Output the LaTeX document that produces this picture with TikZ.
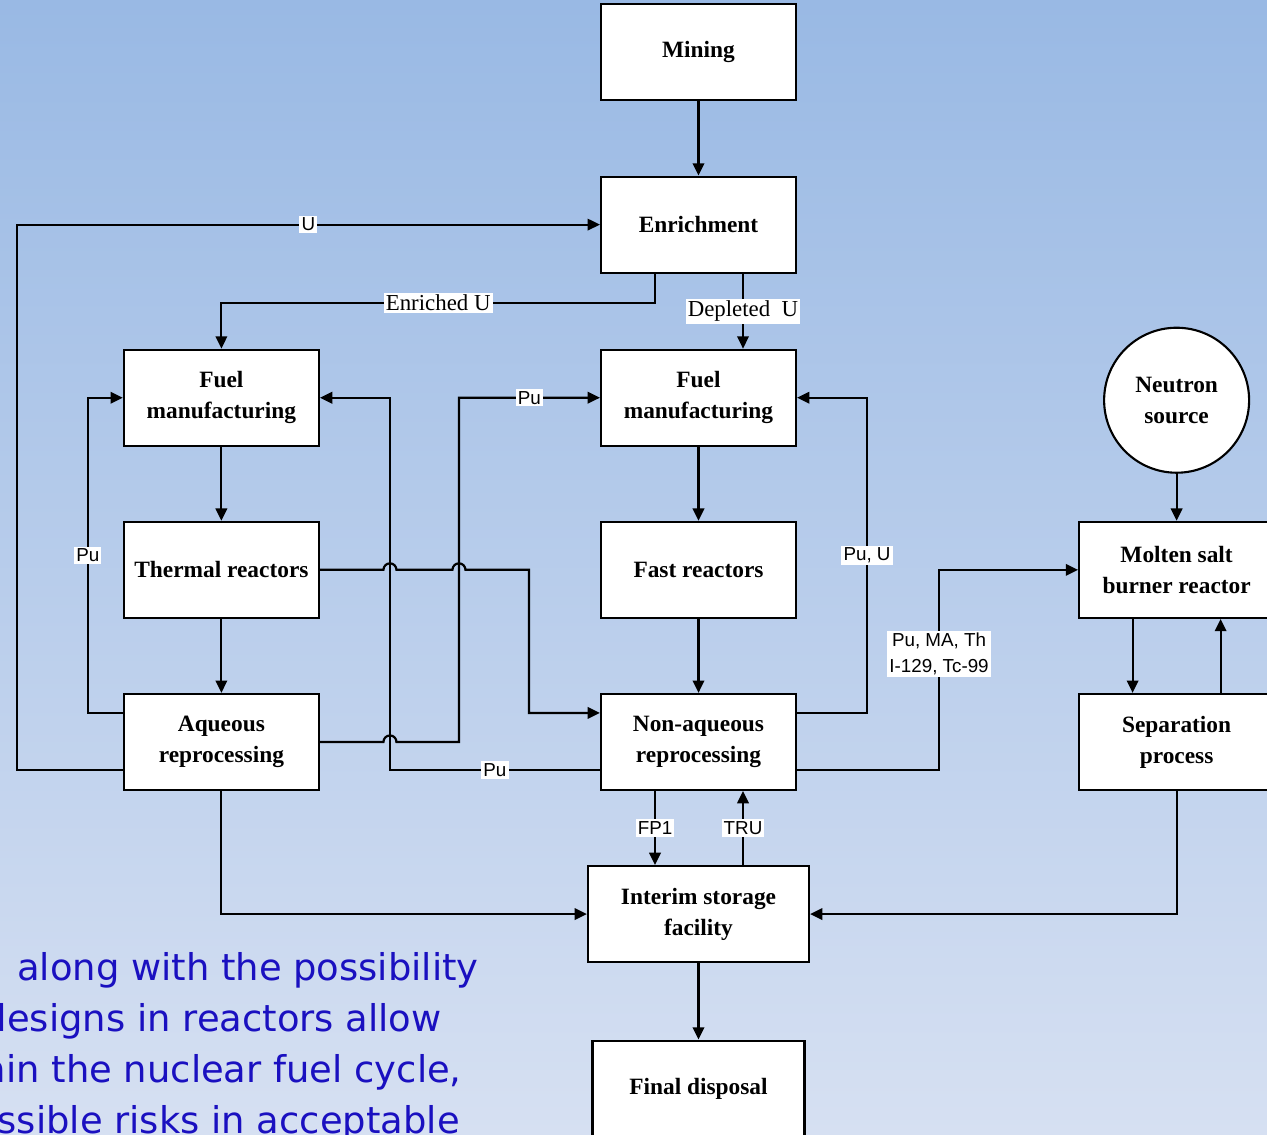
\documentclass[tikz,border=0pt]{standalone}
\usepackage{fontspec}
\setmainfont{Liberation Serif}
\setsansfont{Liberation Sans}
\newfontfamily\blurbfont{DejaVu Sans}
\usetikzlibrary{arrows.meta, positioning, calc}
\definecolor{bgtop}{RGB}{153,185,228}
\definecolor{bgbot}{RGB}{214,224,242}
\definecolor{blurb}{RGB}{26,16,192}
\tikzset{
  blk/.style={
    rectangle, draw=black, fill=white, line width=1.2pt,
    minimum width=#1, minimum height=1.92cm, align=center,
    font=\bfseries\fontsize{13.3}{17.6}\selectfont
  },
  blk/.default=3.9cm,
  arr/.style={line width=1.25pt, -{Triangle[length=7pt,width=6.5pt]}},
  slbl/.style={fill=white, inner sep=1.2pt, font=\fontsize{13}{15}\selectfont},
  plbl/.style={fill=white, inner sep=1.2pt, align=center,
    font=\sffamily\fontsize{10.7}{14.6}\selectfont},
  blurbtxt/.style={anchor=base east, text=blurb, inner sep=0pt,
    font=\blurbfont\fontsize{21}{29}\selectfont}
}

\begin{document}
\begin{tikzpicture}

  \clip (0,0) rectangle (25.34,-22.68);
  \shade[top color=bgtop, bottom color=bgbot] (0,0) rectangle (25.34,-22.68);

  % text of the slide, cut at the left
  \node[blurbtxt] (t1) at (9.58,-19.60) {along with the possibility};
  \node[blurbtxt] (t2) at (8.84,-20.62) {designs in reactors allow};
  \node[blurbtxt] (t3) at (9.24,-21.64) {within the nuclear fuel cycle,};
  \node[blurbtxt] (t4) at (9.20,-22.66) {possible risks in acceptable};

  % middle column
  \node[blk] (mining) at (13.97,-1.04) {Mining};
  \node[blk, below=1.49cm of mining] (enrich) {Enrichment};
  \node[blk, below=1.50cm of enrich]  (fmR)    {Fuel\\manufacturing};
  \node[blk, below=1.48cm of fmR]     (fast)   {Fast reactors};
  \node[blk, below=1.48cm of fast]    (nonaq)  {Non-aqueous\\reprocessing};
  \node[blk=4.42cm, below=1.48cm of nonaq]   (interim) {Interim storage\\facility};
  \node[blk=4.24cm, below=1.53cm of interim] (final)   {Final disposal};

  % left column
  \node[blk, left=5.60cm of fmR]   (fmL)     {Fuel\\manufacturing};
  \node[blk, left=5.60cm of fast]  (thermal) {Thermal reactors};
  \node[blk, left=5.60cm of nonaq] (aq)      {Aqueous\\reprocessing};

  % right column
  \node[blk, right=5.62cm of fast]  (msr) {Molten salt\\burner reactor};
  \node[blk, right=5.62cm of nonaq] (sep) {Separation\\process};
  \node[blk, circle, minimum size=2.9cm, above=0.94cm of msr] (neutron) {Neutron\\source};

  \coordinate (c1) at ($(fmL.east)+(1.4,0)$);
  \coordinate (c2) at ($(fmR.west)+(-2.82,0)$);
  \coordinate (c3) at ($(nonaq.west)+(-1.42,0.58)$);
  \coordinate (c4) at ($(fmR.east)+(1.4,0)$);

  \draw[arr] (mining)  -- (enrich);
  \draw[arr] (fmL)     -- (thermal);
  \draw[arr] (thermal) -- (aq);
  \draw[arr] (fmR)     -- (fast);
  \draw[arr] (fast)    -- (nonaq);
  \draw[arr] (interim) -- (final);
  \draw[arr] (neutron) -- (msr);

  \draw[arr] ([yshift=-0.56cm]aq.west) -- ++(-2.12,0)
    |- node[plbl, pos=0.75]{U} (enrich.west);
  \draw[arr] ([xshift=-0.87cm]enrich.south) -- ++(0,-0.58)
    -| node[slbl, pos=0.25]{Enriched U} (fmL.north);
  \draw[arr] ([xshift=0.89cm]enrich.south) --
    node[slbl]{Depleted\ \ U} ([xshift=0.89cm]fmR.north);

  \draw[arr] ([yshift=0.58cm]aq.west) -- ++(-0.7,0)
    |- node[plbl, pos=0.25]{Pu} (fmL.west);
  \draw[arr] ([yshift=-0.56cm]nonaq.west)
    -| node[plbl, pos=0.25]{Pu} (c1) -- (fmL.east);

  \draw[arr] (thermal.east)
    -- ($(c1 |- thermal.east)+(-0.13,0)$) arc[start angle=180, end angle=0, radius=0.13]
    -- ($(c2 |- thermal.east)+(-0.13,0)$) arc[start angle=180, end angle=0, radius=0.13]
    -- (c3 |- thermal.east) -- (c3) -- ([yshift=0.58cm]nonaq.west);
  \draw[arr] (aq.east)
    -- ($(c1 |- aq.east)+(-0.13,0)$) arc[start angle=180, end angle=0, radius=0.13]
    -- (c2 |- aq.east) -- (c2) -- node[plbl]{Pu} (fmR.west);

  \draw[arr] ([yshift=0.58cm]nonaq.east)
    -| node[plbl, pos=0.75]{Pu, U} (c4) -- (fmR.east);
  \draw[arr] ([yshift=-0.56cm]nonaq.east) -- ++(2.84,0)
    |- node[plbl, pos=0.29]{Pu, MA, Th\\I-129, Tc-99} (msr.west);

  \draw[arr] ([xshift=-0.88cm]msr.south) -- ([xshift=-0.88cm]sep.north);
  \draw[arr] ([xshift=0.88cm]sep.north) -- ([xshift=0.88cm]msr.south);

  \draw[arr] ([xshift=-0.87cm]nonaq.south) --
    node[plbl]{FP1} ([xshift=-0.87cm]interim.north);
  \draw[arr] ([xshift=0.89cm]interim.north) --
    node[plbl]{TRU} ([xshift=0.89cm]nonaq.south);

  \draw[arr] (aq.south)  |- (interim.west);
  \draw[arr] (sep.south) |- (interim.east);

\end{tikzpicture}
\end{document}
